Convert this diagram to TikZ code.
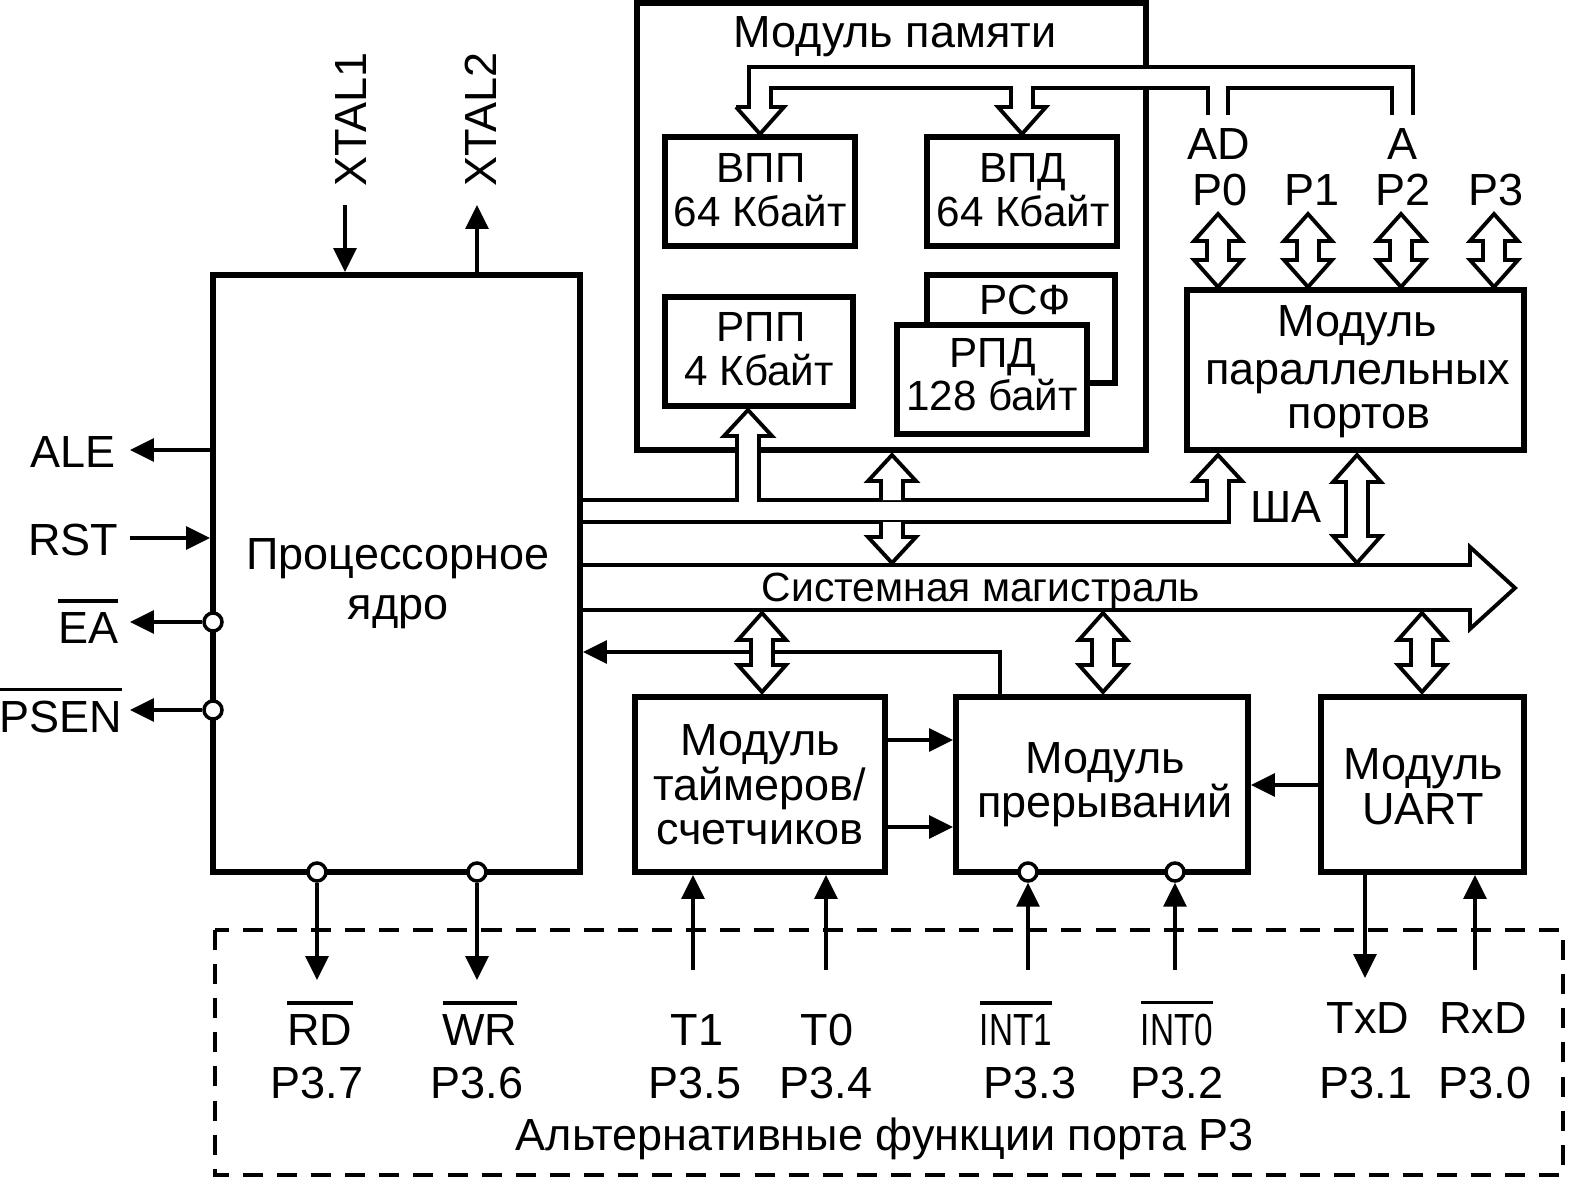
\documentclass[tikz,border=0pt]{standalone}
\usepackage{fontspec}
\setmainfont{Liberation Sans}
\usetikzlibrary{arrows.meta,fit}
\newcommand\ovl[1]{\leavevmode\vbox{\hrule height 1.1pt\kern 2.6pt\hbox{#1}}}
% vertical hollow double arrow: x, top tip y, bottom tip y, head length
\newcommand\hdbl[4]{%
  \draw[hol] (#1,#2) -- ({#1+24},{#2+#4}) -- ({#1+11},{#2+#4}) -- ({#1+11},{#3-#4})
    -- ({#1+24},{#3-#4}) -- (#1,#3) -- ({#1-24},{#3-#4}) -- ({#1-11},{#3-#4})
    -- ({#1-11},{#2+#4}) -- ({#1-24},{#2+#4}) -- cycle;}
\begin{document}
\begin{tikzpicture}[x=0.01cm,y=-0.01cm,
  every node/.style={font=\fontsize{12.8pt}{14pt}\selectfont, inner sep=0pt},
  lb/.style={anchor=base},
  sm/.style={anchor=base, font=\fontsize{12pt}{13pt}\selectfont},
  box/.style={draw, line width=1.7pt, fill=white, inner sep=0pt},
  hol/.style={draw, line width=1.1pt, fill=white, line join=miter, miter limit=20},
  bus/.style={draw, line width=1.1pt, line join=miter, miter limit=20},
  sig/.style={line width=1pt, -{Triangle[length=6.8pt,width=6.5pt]}},
  bub/.style={circle, draw, line width=1pt, fill=white, minimum size=0.18cm, inner sep=0pt},
  dsh/.style={line width=1pt, dash pattern=on 5.7pt off 4pt}]
\useasboundingbox (0,0) rectangle (1590,1197);

% ---------- memory module ----------
\node[box, fit={(637,3) (1146,450)}] (mem) {};
\node[lb] (memt) at (895,48) {Модуль памяти};
\fill[white] (1138,67) rectangle (1154,88);
\draw[bus] (736,107) -- (760,134) -- (784,107) -- (771,107) -- (771,88) -- (1011,88)
  -- (1011,107) -- (998,107) -- (1022,134) -- (1046,107) -- (1033,107) -- (1033,88)
  -- (1208,88) -- (1208,115);
\draw[bus] (1228,115) -- (1228,88) -- (1392,88) -- (1392,115);
\draw[bus] (1413,115) -- (1413,67) -- (749,67) -- (749,107) -- (736,107);

\node[box, fit={(665,137) (855,246)}] (vpp) {};
\node[sm] (vpp1) at (761,183) {ВПП};
\node[sm] (vpp2) at (760,227) {64 Кбайт};
\node[box, fit={(927,137) (1117,246)}] (vpd) {};
\node[sm] (vpd1) at (1023,183) {ВПД};
\node[sm] (vpd2) at (1023,227) {64 Кбайт};
\node[box, fit={(665,297) (853,406)}] (rpp) {};
\node[sm] (rpp1) at (761,341) {РПП};
\node[sm] (rpp2) at (759,386) {4 Кбайт};
\node[box, fit={(927,275) (1115,383)}] (rsf) {};
\node[sm] (rsft) at (1025,315) {РСФ};
\node[box, fit={(897,325) (1087,434)}] (rpd) {};
\node[sm] (rpd1) at (993,368) {РПД};
\node[sm] (rpd2) at (992,411) {128 байт};

% ---------- parallel ports ----------
\node[box, fit={(1187,290) (1524,450)}] (par) {};
\node[lb] (par1) at (1357,337) {Модуль};
\node[lb] (par2) at (1358,385) {параллельных};
\node[lb] (par3) at (1359,429) {портов};
\node[lb] (ad) at (1219,160) {AD};
\node[lb] (aa) at (1403,160) {A};
\node[lb] (p0) at (1220,206) {P0};
\node[lb] (p1) at (1312,206) {P1};
\node[lb] (p2) at (1403,206) {P2};
\node[lb] (p3) at (1496,206) {P3};
\hdbl{1218}{214}{287}{27}
\hdbl{1308}{214}{287}{27}
\hdbl{1401}{214}{287}{27}
\hdbl{1494}{214}{287}{27}

% ---------- data bus from the core ----------
\draw[hol] (580,500) -- (737,500) -- (737,436) -- (724,436) -- (748,410) -- (772,436)
  -- (759,436) -- (759,500) -- (1207,500) -- (1207,481) -- (1194,481) -- (1218,455)
  -- (1242,481) -- (1229,481) -- (1229,522) -- (580,522);
\draw[hol] (881,500) -- (881,481) -- (868,481) -- (892,455) -- (916,481) -- (903,481) -- (903,500);
\draw[hol] (881,522) -- (881,537) -- (868,537) -- (892,563) -- (916,537) -- (903,537) -- (903,522);
\node[lb] (sha) at (1286,522) {ША};
\hdbl{1357}{455}{563}{27}

% ---------- system bus ----------
\draw[hol] (580,565) -- (1470,565) -- (1470,547) -- (1515,588) -- (1470,629) -- (1470,610) -- (580,610);
\node[anchor=base, font=\fontsize{11.6pt}{13pt}\selectfont] (sysb) at (981,601) {Системная магистраль};

% feedback from interrupt module to core
\draw[sig] (1000,697) -- (1000,652) -- (583,652);

\hdbl{762}{613}{692}{27}
\hdbl{1103}{613}{692}{27}
\hdbl{1422}{613}{692}{27}

% ---------- core ----------
\node[box, fit={(213,275) (580,872)}] (cpu) {};
\node[lb] (cpu1) at (398,570) {Процессорное};
\node[lb] (cpu2) at (398,619) {ядро};
\node[rotate=90, anchor=base west] (x1) at (366,187) {XTAL1};
\node[rotate=90, anchor=base west] (x2) at (496,187) {XTAL2};
\draw[sig] (345,205) -- (345,272);
\draw[sig] (477,272) -- (477,205);

\node[anchor=base east] (ale) at (116,467) {ALE};
\node[anchor=base east] (rst) at (119,555) {RST};
\node[anchor=base east] (ea) at (119,643) {\ovl{EA}};
\node[anchor=base east] (psen) at (123,732) {\ovl{PSEN}};
\draw[sig] (213,450) -- (130,450);
\draw[sig] (130,538) -- (210,538);
\node[bub] (eab) at (213,622) {};
\node[bub] (psb) at (213,710) {};
\draw[sig] (eab.west) -- (130,622);
\draw[sig] (psb.west) -- (130,710);

\node[bub] (rdb) at (317,872) {};
\node[bub] (wrb) at (477,872) {};
\draw[sig] (rdb.south) -- (317,980);
\draw[sig] (wrb.south) -- (477,980);

% ---------- timers, interrupts, UART ----------
\node[box, fit={(635,697) (885,872)}] (tim) {};
\node[lb] (tim1) at (760,755) {Модуль};
\node[lb] (tim2) at (760,800) {таймеров/};
\node[lb] (tim3) at (760,844) {счетчиков};
\node[box, fit={(956,697) (1248,872)}] (irq) {};
\node[lb] (irq1) at (1105,773) {Модуль};
\node[lb] (irq2) at (1105,817) {прерываний};
\node[box, fit={(1321,697) (1524,872)}] (uart) {};
\node[lb] (uart1) at (1423,779) {Модуль};
\node[lb] (uart2) at (1423,824) {UART};
\draw[sig] (888,740) -- (953,740);
\draw[sig] (888,827) -- (953,827);
\draw[sig] (1318,785) -- (1251,785);

\draw[sig] (693,970) -- (693,875);
\draw[sig] (826,970) -- (826,875);
\node[bub] (i1b) at (1028,872) {};
\node[bub] (i0b) at (1175,872) {};
\draw[sig] (1028,970) -- (i1b.south);
\draw[sig] (1175,970) -- (i0b.south);
\draw[sig] (1365,875) -- (1365,978);
\draw[sig] (1475,970) -- (1475,875);

% ---------- port 3 alternative functions ----------
\draw[dsh] (215,930) rectangle (1563,1175);
\node[lb] (rd) at (320,1045) {\ovl{RD}};
\node[lb] (wr) at (480,1045) {\ovl{WR}};
\node[lb] (t1) at (697,1045) {T1};
\node[lb] (t0) at (827,1045) {T0};
\node[lb, xscale=0.74] (int1) at (1016,1045) {\ovl{INT1}};
\node[lb, xscale=0.74] (int0) at (1177,1045) {\ovl{INT0}};
\node[lb] (txd) at (1368,1033) {TxD};
\node[lb] (rxd) at (1483,1033) {RxD};
\node[lb] (p37) at (317,1098) {P3.7};
\node[lb] (p36) at (477,1098) {P3.6};
\node[lb] (p35) at (695,1098) {P3.5};
\node[lb] (p34) at (826,1098) {P3.4};
\node[lb] (p33) at (1030,1098) {P3.3};
\node[lb] (p32) at (1177,1098) {P3.2};
\node[lb] (p31) at (1366,1098) {P3.1};
\node[lb] (p30) at (1485,1098) {P3.0};
\node[lb] (alt) at (885,1150) {Альтернативные функции порта P3};
\end{tikzpicture}
\end{document}
